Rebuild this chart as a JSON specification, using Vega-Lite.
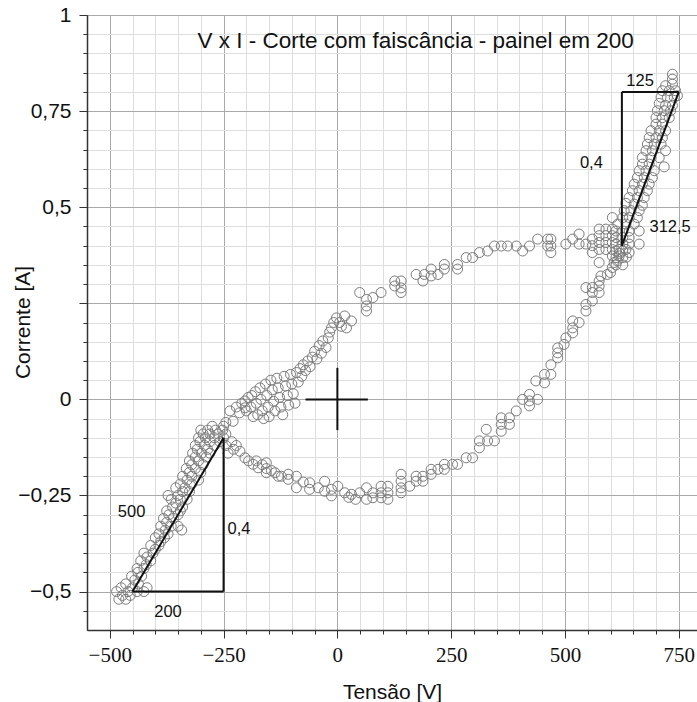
{
  "$schema": "https://vega.github.io/schema/vega-lite/v6.json",
  "width": 610,
  "height": 615,
  "autosize": {"type": "none"},
  "padding": {"left": 87, "top": 15, "right": 0, "bottom": 72},
  "background": "white",
  "config": {
    "view": {"stroke": "#555", "strokeWidth": 1},
    "font": "Liberation Sans"
  },
  "datasets": {
    "title": [{"x": 172, "y": 0.915, "t": "V x I - Corte com faiscância - painel em 200"}],
    "labels": [
      {"x": 665, "y": 0.816, "t": "125"},
      {"x": 558, "y": 0.603, "t": "0,4"},
      {"x": 731, "y": 0.4365, "t": "312,5"},
      {"x": -452, "y": -0.3065, "t": "500"},
      {"x": -216, "y": -0.35, "t": "0,4"},
      {"x": -372, "y": -0.567, "t": "200"}
    ],
    "lines": [
      {"x1": -450, "y1": -0.5, "x2": -250, "y2": -0.5},
      {"x1": -250, "y1": -0.5, "x2": -250, "y2": -0.1},
      {"x1": -450, "y1": -0.5, "x2": -250, "y2": -0.1},
      {"x1": 625, "y1": 0.4, "x2": 625, "y2": 0.8},
      {"x1": 625, "y1": 0.8, "x2": 750, "y2": 0.8},
      {"x1": 625, "y1": 0.4, "x2": 750, "y2": 0.8},
      {"x1": -70, "y1": 0, "x2": 67, "y2": 0},
      {"x1": 0, "y1": 0.082, "x2": 0, "y2": -0.08}
    ],
    "pts": [
      {"v":-480,"i":-0.52},{"v":-465,"i":-0.52},{"v":-472,"i":-0.51},{"v":-455,"i":-0.51},{"v":-485,"i":-0.50},{"v":-460,"i":-0.50},{"v":-440,"i":-0.50},{"v":-425,"i":-0.50},{"v":-475,"i":-0.49},{"v":-450,"i":-0.49},{"v":-418,"i":-0.49},{"v":-465,"i":-0.48},{"v":-437,"i":-0.48},{"v":-445,"i":-0.47},{"v":-452,"i":-0.46},{"v":-430,"i":-0.46},{"v":-438,"i":-0.45},{"v":-440,"i":-0.44},{"v":-425,"i":-0.44},{"v":-420,"i":-0.43},{"v":-432,"i":-0.42},{"v":-410,"i":-0.42},{"v":-418,"i":-0.41},{"v":-425,"i":-0.40},{"v":-405,"i":-0.40},{"v":-400,"i":-0.39},{"v":-410,"i":-0.38},{"v":-392,"i":-0.38},{"v":-388,"i":-0.37},{"v":-400,"i":-0.36},{"v":-380,"i":-0.36},{"v":-392,"i":-0.35},{"v":-372,"i":-0.35},{"v":-378,"i":-0.34},{"v":-342,"i":-0.34},{"v":-388,"i":-0.33},{"v":-365,"i":-0.33},{"v":-350,"i":-0.33},{"v":-375,"i":-0.32},{"v":-382,"i":-0.31},{"v":-360,"i":-0.31},{"v":-370,"i":-0.30},{"v":-350,"i":-0.30},{"v":-375,"i":-0.29},{"v":-345,"i":-0.29},{"v":-362,"i":-0.28},{"v":-340,"i":-0.28},{"v":-355,"i":-0.27},{"v":-365,"i":-0.26},{"v":-345,"i":-0.26},{"v":-330,"i":-0.26},{"v":-372,"i":-0.25},{"v":-350,"i":-0.25},{"v":-340,"i":-0.24},{"v":-325,"i":-0.24},{"v":-355,"i":-0.23},{"v":-335,"i":-0.23},{"v":-345,"i":-0.22},{"v":-320,"i":-0.22},{"v":-330,"i":-0.21},{"v":-305,"i":-0.21},{"v":-340,"i":-0.20},{"v":-320,"i":-0.20},{"v":-325,"i":-0.19},{"v":-300,"i":-0.19},{"v":-332,"i":-0.18},{"v":-312,"i":-0.18},{"v":-320,"i":-0.17},{"v":-295,"i":-0.17},{"v":-325,"i":-0.16},{"v":-305,"i":-0.16},{"v":-312,"i":-0.15},{"v":-288,"i":-0.15},{"v":-318,"i":-0.14},{"v":-298,"i":-0.14},{"v":-280,"i":-0.14},{"v":-308,"i":-0.13},{"v":-285,"i":-0.13},{"v":-312,"i":-0.12},{"v":-292,"i":-0.12},{"v":-270,"i":-0.12},{"v":-302,"i":-0.11},{"v":-280,"i":-0.11},{"v":-258,"i":-0.11},{"v":-305,"i":-0.10},{"v":-290,"i":-0.10},{"v":-270,"i":-0.10},{"v":-250,"i":-0.10},{"v":-295,"i":-0.09},{"v":-280,"i":-0.09},{"v":-262,"i":-0.09},{"v":-245,"i":-0.09},{"v":-300,"i":-0.08},{"v":-285,"i":-0.08},{"v":-268,"i":-0.08},{"v":-252,"i":-0.08},{"v":-275,"i":-0.07},
      {"v":-245,"i":-0.12},{"v":-240,"i":-0.14},{"v":-232,"i":-0.11},{"v":-228,"i":-0.13},{"v":-222,"i":-0.12},{"v":-214,"i":-0.135},{"v":-203,"i":-0.152},{"v":-195,"i":-0.16},{"v":-185,"i":-0.169},{"v":-178,"i":-0.16},{"v":-174,"i":-0.178},{"v":-165,"i":-0.17},{"v":-156,"i":-0.165},{"v":-156,"i":-0.18},{"v":-156,"i":-0.191},{"v":-145,"i":-0.185},{"v":-137,"i":-0.191},{"v":-130,"i":-0.2},{"v":-123,"i":-0.2},{"v":-108,"i":-0.195},{"v":-108,"i":-0.208},{"v":-90,"i":-0.2},{"v":-90,"i":-0.23},{"v":-75,"i":-0.215},{"v":-61,"i":-0.217},{"v":-61,"i":-0.234},{"v":-42,"i":-0.23},{"v":-28,"i":-0.213},{"v":-28,"i":-0.239},{"v":-13,"i":-0.234},{"v":-13,"i":-0.251},{"v":1,"i":-0.226},{"v":16,"i":-0.243},{"v":25,"i":-0.255},{"v":31,"i":-0.247},{"v":40,"i":-0.26},{"v":49,"i":-0.243},{"v":64,"i":-0.23},{"v":64,"i":-0.26},{"v":78,"i":-0.243},{"v":78,"i":-0.256},{"v":96,"i":-0.226},{"v":96,"i":-0.243},{"v":96,"i":-0.256},{"v":111,"i":-0.226},{"v":111,"i":-0.243},{"v":111,"i":-0.26},{"v":140,"i":-0.195},{"v":140,"i":-0.213},{"v":140,"i":-0.23},{"v":140,"i":-0.243},{"v":159,"i":-0.226},{"v":173,"i":-0.2},{"v":173,"i":-0.213},{"v":188,"i":-0.2},{"v":188,"i":-0.213},{"v":206,"i":-0.182},{"v":206,"i":-0.195},{"v":221,"i":-0.182},{"v":235,"i":-0.169},{"v":235,"i":-0.182},{"v":253,"i":-0.169},{"v":264,"i":-0.169},{"v":283,"i":-0.152},{"v":297,"i":-0.152},{"v":312,"i":-0.108},{"v":312,"i":-0.126},{"v":327,"i":-0.078},{"v":330,"i":-0.108},{"v":345,"i":-0.108},{"v":360,"i":-0.048},{"v":360,"i":-0.065},{"v":360,"i":-0.083},{"v":378,"i":-0.048},{"v":378,"i":-0.065},{"v":393,"i":-0.03},{"v":407,"i":0},{"v":422,"i":0.013},{"v":422,"i":-0.004},{"v":422,"i":-0.017},{"v":440,"i":0},{"v":436,"i":0.048},{"v":455,"i":0.065},{"v":455,"i":0.043},{"v":469,"i":0.065},{"v":469,"i":0.09},{"v":484,"i":0.134},{"v":484,"i":0.121},{"v":484,"i":0.108},{"v":498,"i":0.143},{"v":502,"i":0.16},{"v":517,"i":0.173},{"v":517,"i":0.186},{"v":517,"i":0.204},{"v":531,"i":0.2},{"v":546,"i":0.23},{"v":546,"i":0.247},{"v":560,"i":0.256},{"v":560,"i":0.278},{"v":560,"i":0.291},{"v":546,"i":0.291},{"v":575,"i":0.308},{"v":575,"i":0.295},{"v":575,"i":0.278},{"v":579,"i":0.321},{"v":575,"i":0.356},{"v":593,"i":0.325},{"v":604,"i":0.343},{"v":608,"i":0.356},{"v":600,"i":0.33},{"v":615,"i":0.36},{"v":620,"i":0.38},{"v":635,"i":0.37},
      {"v":-250,"i":-0.07},{"v":-245,"i":-0.06},{"v":-236,"i":-0.03},{"v":-229,"i":-0.057},{"v":-222,"i":-0.02},{"v":-215,"i":-0.035},{"v":-210,"i":-0.01},{"v":-203,"i":-0.004},{"v":-200,"i":-0.03},{"v":-196,"i":0.005},{"v":-203,"i":-0.022},
      {"v":-190,"i":-0.02},{"v":-188,"i":0.01},{"v":-185,"i":-0.045},{"v":-180,"i":0.02},{"v":-178,"i":-0.01},{"v":-175,"i":-0.04},{"v":-170,"i":0.03},{"v":-168,"i":0.0},{"v":-165,"i":-0.03},{"v":-162,"i":-0.05},{"v":-158,"i":0.04},{"v":-155,"i":0.01},{"v":-152,"i":-0.02},{"v":-150,"i":-0.045},{"v":-146,"i":0.05},{"v":-143,"i":0.025},{"v":-140,"i":-0.005},{"v":-137,"i":-0.03},{"v":-133,"i":0.055},{"v":-130,"i":0.03},{"v":-127,"i":0.005},{"v":-124,"i":-0.02},{"v":-120,"i":-0.04},{"v":-117,"i":0.06},{"v":-114,"i":0.035},{"v":-110,"i":0.01},{"v":-107,"i":-0.015},{"v":-103,"i":0.065},{"v":-100,"i":0.04},{"v":-97,"i":0.015},{"v":-93,"i":-0.01},{"v":-90,"i":0.07},{"v":-86,"i":0.045},{"v":-82,"i":0.08},{"v":-78,"i":0.06},
      {"v":-75,"i":0.09},{"v":-70,"i":0.075},{"v":-65,"i":0.10},{"v":-60,"i":0.085},{"v":-55,"i":0.11},{"v":-50,"i":0.125},{"v":-45,"i":0.105},{"v":-40,"i":0.14},{"v":-35,"i":0.12},{"v":-32,"i":0.152},{"v":-25,"i":0.135},{"v":-20,"i":0.16},{"v":-17,"i":0.175},{"v":-13,"i":0.186},{"v":-8,"i":0.2},{"v":-2,"i":0.212},{"v":5,"i":0.2},{"v":9,"i":0.19},{"v":16,"i":0.217},{"v":20,"i":0.186},{"v":31,"i":0.204},
      {"v":49,"i":0.278},{"v":64,"i":0.26},{"v":64,"i":0.243},{"v":64,"i":0.23},{"v":78,"i":0.265},{"v":96,"i":0.278},{"v":126,"i":0.308},{"v":140,"i":0.308},{"v":126,"i":0.295},{"v":140,"i":0.29},{"v":140,"i":0.278},{"v":173,"i":0.325},{"v":188,"i":0.308},{"v":191,"i":0.325},{"v":206,"i":0.339},{"v":206,"i":0.321},{"v":221,"i":0.325},{"v":235,"i":0.351},{"v":235,"i":0.339},{"v":264,"i":0.351},{"v":264,"i":0.339},{"v":283,"i":0.369},{"v":297,"i":0.369},{"v":312,"i":0.382},{"v":330,"i":0.386},{"v":345,"i":0.399},{"v":360,"i":0.399},{"v":374,"i":0.399},{"v":393,"i":0.399},{"v":407,"i":0.386},{"v":422,"i":0.399},{"v":440,"i":0.417},{"v":462,"i":0.417},{"v":469,"i":0.417},{"v":462,"i":0.399},{"v":469,"i":0.399},{"v":469,"i":0.382},{"v":502,"i":0.404},{"v":517,"i":0.417},{"v":531,"i":0.43},{"v":531,"i":0.404},{"v":546,"i":0.404},{"v":560,"i":0.417},{"v":560,"i":0.4},{"v":560,"i":0.382},{"v":575,"i":0.443},{"v":575,"i":0.426},{"v":575,"i":0.408},{"v":575,"i":0.39},{"v":590,"i":0.443},{"v":590,"i":0.426},{"v":590,"i":0.408},{"v":590,"i":0.39},{"v":604,"i":0.443},{"v":604,"i":0.426},{"v":604,"i":0.408},{"v":604,"i":0.39},{"v":604,"i":0.373},{"v":619,"i":0.39},{"v":619,"i":0.373},{"v":634,"i":0.39},{"v":641,"i":0.382},
      {"v":736,"i":0.846},{"v":736,"i":0.833},{"v":736,"i":0.82},{"v":721,"i":0.816},{"v":747,"i":0.79},{"v":714,"i":0.803},{"v":729,"i":0.803},{"v":743,"i":0.803},{"v":711,"i":0.786},{"v":725,"i":0.786},{"v":740,"i":0.786},{"v":707,"i":0.77},{"v":721,"i":0.765},{"v":736,"i":0.765},{"v":703,"i":0.751},{"v":718,"i":0.751},{"v":732,"i":0.751},{"v":700,"i":0.733},{"v":714,"i":0.733},{"v":729,"i":0.733},{"v":700,"i":0.716},{"v":714,"i":0.716},{"v":689,"i":0.699},{"v":707,"i":0.699},{"v":721,"i":0.699},{"v":685,"i":0.681},{"v":700,"i":0.681},{"v":714,"i":0.681},{"v":681,"i":0.664},{"v":696,"i":0.664},{"v":711,"i":0.664},{"v":678,"i":0.647},{"v":692,"i":0.647},{"v":721,"i":0.647},{"v":670,"i":0.629},{"v":689,"i":0.629},{"v":707,"i":0.629},{"v":670,"i":0.612},{"v":685,"i":0.612},{"v":718,"i":0.605},{"v":663,"i":0.595},{"v":678,"i":0.595},{"v":696,"i":0.595},{"v":659,"i":0.577},{"v":674,"i":0.577},{"v":692,"i":0.577},{"v":652,"i":0.56},{"v":670,"i":0.56},{"v":685,"i":0.56},{"v":648,"i":0.543},{"v":663,"i":0.543},{"v":681,"i":0.543},{"v":641,"i":0.525},{"v":659,"i":0.525},{"v":674,"i":0.525},{"v":634,"i":0.51},{"v":652,"i":0.508},{"v":670,"i":0.505},{"v":630,"i":0.491},{"v":645,"i":0.491},{"v":663,"i":0.491},{"v":627,"i":0.473},{"v":641,"i":0.473},{"v":659,"i":0.473},{"v":616,"i":0.456},{"v":634,"i":0.456},{"v":652,"i":0.456},{"v":604,"i":0.473},{"v":612,"i":0.438},{"v":627,"i":0.438},{"v":641,"i":0.438},{"v":663,"i":0.438},{"v":612,"i":0.421},{"v":627,"i":0.421},{"v":641,"i":0.421},{"v":612,"i":0.404},{"v":627,"i":0.404},{"v":641,"i":0.404},{"v":663,"i":0.404},{"v":612,"i":0.386},{"v":627,"i":0.386},{"v":612,"i":0.369},{"v":627,"i":0.369},{"v":627,"i":0.35},{"v":612,"i":0.35}
    ]
  },
  "resolve": {"axis": {"x": "independent", "y": "independent"}},
  "layer": [
    {
      "data": {"name": "title"},
      "mark": {"type": "text", "font": "Liberation Sans", "fontSize": 22.5, "align": "center", "baseline": "alphabetic", "color": "#111"},
      "encoding": {
        "x": {"field": "x", "type": "quantitative", "scale": {"domain": [-550, 790], "nice": false, "zero": false},
          "axis": {"orient": "bottom", "values": [-500,-450,-400,-350,-300,-250,-200,-150,-100,-50,0,50,100,150,200,250,300,350,400,450,500,550,600,650,700,750],
            "grid": true, "gridColor": "#dedede", "gridWidth": 1, "labels": false, "ticks": true, "tickSize": 4, "tickColor": "#333", "domain": false, "title": null}},
        "y": {"field": "y", "type": "quantitative", "scale": {"domain": [-0.6, 1], "nice": false, "zero": false},
          "axis": {"orient": "left", "values": [-0.55,-0.5,-0.45,-0.4,-0.35,-0.3,-0.25,-0.2,-0.15,-0.1,-0.05,0,0.05,0.1,0.15,0.2,0.25,0.3,0.35,0.4,0.45,0.5,0.55,0.6,0.65,0.7,0.75,0.8,0.85,0.9,0.95],
            "grid": true, "gridColor": "#dedede", "gridWidth": 1, "labels": false, "ticks": true, "tickSize": 4, "tickColor": "#333", "domain": false, "title": null}},
        "text": {"field": "t"}
      }
    },
    {
      "data": {"name": "pts"},
      "mark": {"type": "point", "shape": "circle", "filled": false, "stroke": "#7c7c7c", "strokeWidth": 1, "size": 100, "opacity": 1},
      "encoding": {
        "x": {"field": "v", "type": "quantitative",
          "axis": {"orient": "bottom", "values": [-500, -250, 0, 250, 500, 750], "grid": true, "gridColor": "#a9a9a9", "gridWidth": 1,
            "ticks": true, "tickSize": 8, "tickColor": "#333", "domain": true, "domainColor": "#333", "domainWidth": 1.5,
            "labelFont": "Liberation Serif", "labelFontSize": 21, "labelColor": "#111", "labelPadding": 6,
            "title": "Tensão [V]", "titleFont": "Liberation Sans", "titleFontSize": 21, "titleFontWeight": "normal", "titleColor": "#111",
            "titleBaseline": "alphabetic", "titleY": 68, "titleX": 305}},
        "y": {"field": "i", "type": "quantitative",
          "axis": {"orient": "left", "values": [-0.5, -0.25, 0, 0.25, 0.5, 0.75, 1], "grid": true, "gridColor": "#a9a9a9", "gridWidth": 1,
            "ticks": true, "tickSize": 8, "tickColor": "#333", "domain": true, "domainColor": "#333", "domainWidth": 1.5,
            "labelFont": "Liberation Sans", "labelFontSize": 21, "labelColor": "#111", "labelPadding": 8,
            "labelExpr": "datum.value == 0.25 ? '' : replace(format(datum.value, '~g'), '.', ',')",
            "title": "Corrente [A]", "titleFont": "Liberation Sans", "titleFontSize": 21, "titleFontWeight": "normal", "titleColor": "#111",
            "titleBaseline": "alphabetic", "titleX": -58, "titleY": 307, "titleAngle": -90}}
      }
    },
    {
      "data": {"name": "lines"},
      "mark": {"type": "rule", "color": "#111", "strokeWidth": 2},
      "encoding": {
        "x": {"field": "x1", "type": "quantitative", "axis": null},
        "y": {"field": "y1", "type": "quantitative", "axis": null},
        "x2": {"field": "x2"},
        "y2": {"field": "y2"}
      }
    },
    {
      "data": {"name": "labels"},
      "mark": {"type": "text", "font": "Liberation Sans", "fontSize": 16.5, "align": "center", "baseline": "alphabetic", "color": "#111"},
      "encoding": {
        "x": {"field": "x", "type": "quantitative", "axis": null},
        "y": {"field": "y", "type": "quantitative", "axis": null},
        "text": {"field": "t"}
      }
    }
  ]
}
